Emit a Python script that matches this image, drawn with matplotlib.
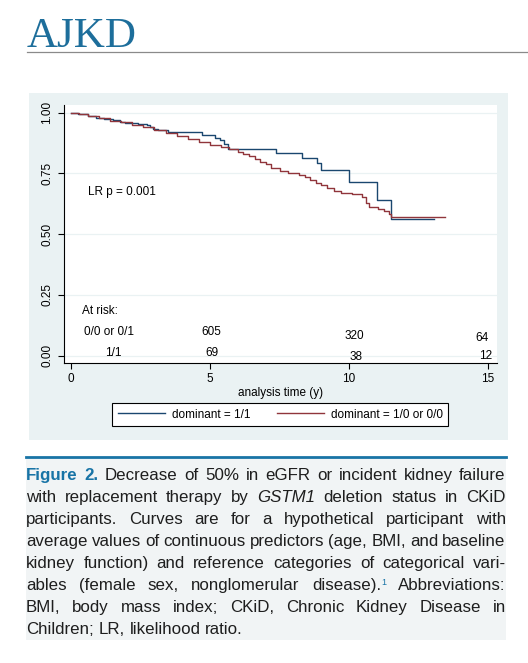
import matplotlib
matplotlib.use("Agg")
import matplotlib.pyplot as plt
from matplotlib.patches import Rectangle
from matplotlib.lines import Line2D
from matplotlib.ticker import FormatStrFormatter

plt.rcParams['font.family'] = ['Liberation Sans', 'DejaVu Sans']

# ---------------- data ----------------
blue_time = [0, 0.25, 0.6, 0.9, 1.2, 1.5, 1.76, 1.94, 2.42, 2.72, 2.84, 2.96, 3.14, 3.5,
             4.70, 5.18, 5.36, 5.50, 5.66, 7.39, 8.30, 8.86, 9.00, 9.99, 11.01, 11.51, 13.07]
blue_surv = [1.0, 0.993, 0.987, 0.980, 0.975, 0.969, 0.964, 0.959, 0.953, 0.948, 0.941, 0.932, 0.927, 0.920,
             0.908, 0.898, 0.887, 0.870, 0.851, 0.836, 0.815, 0.793, 0.764, 0.715, 0.642, 0.562, 0.562]

red_time = [0, 0.3, 0.6, 1.0, 1.4, 1.8, 2.2, 2.6, 3.0, 3.4, 3.8, 4.2, 4.6, 5.0, 5.4, 5.7,
            6.0, 6.2, 6.4, 6.6, 6.8, 7.0, 7.2, 7.5, 7.8, 8.2, 8.4, 8.6, 8.8, 9.0, 9.2, 9.45,
            9.7, 10.1, 10.45, 10.62, 10.72, 11.05, 11.25, 11.45, 11.52, 13.45]
red_surv = [1.0, 0.994, 0.988, 0.977, 0.968, 0.960, 0.951, 0.940, 0.928, 0.917, 0.906, 0.893, 0.880, 0.866, 0.858, 0.849,
            0.840, 0.832, 0.821, 0.810, 0.799, 0.788, 0.772, 0.762, 0.750, 0.743, 0.736, 0.724, 0.712, 0.701, 0.690, 0.677,
            0.670, 0.666, 0.655, 0.630, 0.612, 0.603, 0.595, 0.585, 0.569, 0.569]

series_labels = ["dominant = 1/1", "dominant = 1/0 or 0/0"]
risk_times = [5, 10, 15]
risk_group_labels = ["0/0 or 0/1", "1/1"]
risk_counts_00 = [605, 320, 64]
risk_counts_11 = [69, 38, 12]
x_ticks = [0, 5, 10, 15]
y_ticks = [0.00, 0.25, 0.50, 0.75, 1.00]
x_label = "analysis time (y)"
p_text = "LR p = 0.001"

caption_lines = [
    "**Figure** **2.** Decrease of 50% in eGFR or incident kidney failure",
    "with replacement therapy by *GSTM1* deletion status in CKiD",
    "participants. Curves are for a hypothetical participant with",
    "average values of continuous predictors (age, BMI, and baseline",
    "kidney function) and reference categories of categorical vari-",
    "ables (female sex, nonglomerular disease).^1 Abbreviations:",
    "BMI, body mass index; CKiD, Chronic Kidney Disease in",
    "Children; LR, likelihood ratio.",
]

# ---------------- layout ----------------
W, H = 528, 663
BLUE = '#1a476f'
RED = '#90353b'
TEAL = '#1874a6'
PANEL = '#eaf2f3'


def fx(x):
    return x / W


def fy(y):
    return 1 - y / H


fig = plt.figure(figsize=(W / 100, H / 100), dpi=100)
fig.patch.set_facecolor('white')

# logo + rule
fig.text(fx(27), fy(46.7), "AJKD", family=['Liberation Serif', 'DejaVu Serif'],
         size=31, color='#1d6e9b', va='baseline', ha='left')
fig.add_artist(Line2D([fx(26.7), fx(528)], [fy(51.7), fy(51.7)], color='#8a8a8a', lw=0.9))

# graph region panel
fig.add_artist(Rectangle((fx(29), fy(440)), fx(508) - fx(29), fy(93) - fy(440),
                         facecolor=PANEL, edgecolor='none', zorder=-1))

# axes
ax = fig.add_axes([fx(64.3), fy(363.3), fx(496.7) - fx(64.3), fy(105) - fy(363.3)])
ax.set_facecolor('white')
ax.set_xlim(-0.24, 15.31)
ax.set_ylim(-0.032, 1.032)
for s in ['top', 'right']:
    ax.spines[s].set_visible(False)
for s in ['left', 'bottom']:
    ax.spines[s].set_linewidth(0.8)
ax.set_xticks(x_ticks)
ax.set_yticks(y_ticks)
ax.yaxis.set_major_formatter(FormatStrFormatter('%.2f'))
ax.tick_params(direction='out', length=4, width=0.8, labelsize=8.5, pad=3)
plt.setp(ax.get_yticklabels(), rotation=90, va='center')
ax.tick_params(axis='y', pad=4)
ax.yaxis.grid(True, color=PANEL, lw=0.9)
ax.set_axisbelow(True)
ax.set_xlabel(x_label, fontsize=8.5, labelpad=1.5)

l_blue, = ax.step(blue_time, blue_surv, where='post', color=BLUE, lw=1.0)
l_red, = ax.step(red_time, red_surv, where='post', color=RED, lw=1.0)

ax.text(0.6, 0.672, p_text, fontsize=8.5, va='center', ha='left')
ax.text(0.4, 0.185, "At risk:", fontsize=8.5, va='center', ha='left')
ax.text(1.38, 0.098, risk_group_labels[0], fontsize=8.5, va='center', ha='center')
ax.text(1.53, 0.010, risk_group_labels[1], fontsize=8.5, va='center', ha='center')
row00_dx = [0.05, 0.18, -0.22]
row00_y = [0.098, 0.080, 0.071]
row11_dx = [0.06, 0.25, -0.10]
row11_y = [0.010, -0.005, -0.001]
for t, c, dx, yy in zip(risk_times, risk_counts_00, row00_dx, row00_y):
    ax.text(t + dx, yy, str(c), fontsize=8.5, va='center', ha='center')
for t, c, dx, yy in zip(risk_times, risk_counts_11, row11_dx, row11_y):
    ax.text(t + dx, yy, str(c), fontsize=8.5, va='center', ha='center')

leg = fig.legend([l_blue, l_red], series_labels, loc='center',
                 bbox_to_anchor=(fx(280.3), fy(414.5)), ncol=2, frameon=True,
                 fancybox=False, edgecolor='black', framealpha=1, fontsize=8.5,
                 handlelength=4.0, handletextpad=0.6, columnspacing=2.2,
                 borderpad=0.45, borderaxespad=0)
leg.get_frame().set_linewidth(0.8)

# caption box
fig.add_artist(Rectangle((fx(26), fy(640)), fx(506) - fx(26), fy(458) - fy(640),
                         facecolor='#f1f4f5', edgecolor='none', zorder=-1))
fig.add_artist(Line2D([fx(26), fx(506)], [fy(457.3), fy(457.3)], color=TEAL, lw=2.0))

FS = 12.2
styles = {
    'n': dict(size=FS, color='#1e1e1e'),
    'fig': dict(size=FS, weight='bold', color=TEAL),
    'it': dict(size=FS, style='italic', color='#1e1e1e'),
    'sup': dict(size=6.5, color=TEAL),
}


def segments(w):
    if w.startswith('**'):
        return [(w.strip('*'), 'fig')]
    if w.startswith('*') and w.endswith('*'):
        return [(w.strip('*'), 'it')]
    if '^' in w:
        a, b = w.split('^')
        return [(a, 'n'), (b, 'sup')]
    return [(w, 'n')]


renderer = fig.canvas.get_renderer()


def seg_w(text, st):
    t = fig.text(0, 0, text, **styles[st])
    w = t.get_window_extent(renderer).width
    t.remove()
    return w


left, right = 26.0, 505.7
space = 0.278 * FS * 100 / 72
for i, line in enumerate(caption_lines):
    base = 480 + 22 * i
    words = [segments(w) for w in line.split(' ')]
    widths = [[seg_w(s, st) for s, st in wd] for wd in words]
    totals = [sum(w) for w in widths]
    last = (i == len(caption_lines) - 1)
    gap = space if last else (right - left - sum(totals)) / (len(words) - 1)
    x = left
    for wd, ws in zip(words, widths):
        xx = x
        for (s, st), w in zip(wd, ws):
            yb = base - 5 if st == 'sup' else base
            fig.text(fx(xx), fy(yb), s, va='baseline', ha='left', **styles[st])
            xx += w
        x += sum(ws) + gap

fig.savefig("out.png", dpi=100)
